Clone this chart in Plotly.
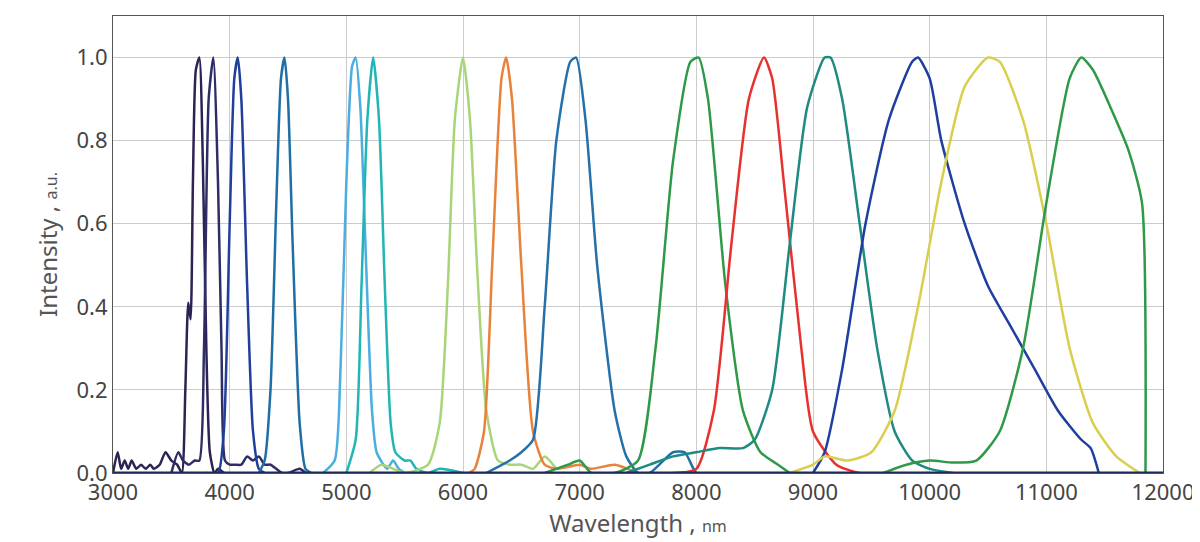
import plotly.graph_objects as go

colors = ["#2d2352", "#2e2e66", "#1f3f9a", "#1f6fa5", "#4aaee0", "#22b5b5", "#a8d47a", "#e8823a",
          "#2570a8", "#2e9a48", "#e8302e", "#1f8a80", "#1f3fa0", "#d9cf4f", "#2e9a48"]

x_ticks = [3000, 4000, 5000, 6000, 7000, 8000, 9000, 10000, 11000, 12000]
y_ticks = [0, 0.2, 0.4, 0.6, 0.8, 1.0]

s1_x = [3000, 3040, 3070, 3100, 3130, 3160, 3200, 3240, 3280, 3320, 3350, 3400, 3450, 3500, 3550, 3590, 3620, 3645, 3665, 3685, 3710, 3740, 3770, 3800, 3830, 3870, 3900, 3950]
s1_y = [0, 0.05, 0.01, 0.03, 0.01, 0.03, 0.01, 0.02, 0.01, 0.02, 0.01, 0.02, 0.05, 0.03, 0.02, 0.0, 0.2, 0.41, 0.37, 0.7, 0.97, 1.0, 0.75, 0.3, 0.05, 0.0, 0.01, 0]
s2_x = [3500, 3560, 3600, 3650, 3700, 3740, 3780, 3820, 3860, 3900, 3930, 3960, 4000, 4050, 4100, 4150, 4200, 4250, 4300, 4350, 4400, 4450, 4500, 4600, 4650]
s2_y = [0.0, 0.05, 0.03, 0.02, 0.03, 0.03, 0.3, 0.9, 1.0, 0.7, 0.3, 0.03, 0.02, 0.02, 0.02, 0.04, 0.03, 0.04, 0.02, 0.02, 0.01, 0, 0, 0.01, 0]
s3_x = [3800, 3900, 3950, 4000, 4040, 4070, 4100, 4150, 4200, 4250, 4300]
s3_y = [0, 0, 0.1, 0.6, 0.95, 1.0, 0.9, 0.45, 0.1, 0.01, 0]
s4_x = [4250, 4300, 4350, 4400, 4440, 4470, 4500, 4540, 4600, 4650, 4700]
s4_y = [0, 0.03, 0.2, 0.65, 0.95, 1.0, 0.9, 0.55, 0.12, 0.01, 0]
s5_x = [4800, 4900, 4950, 5000, 5050, 5080, 5120, 5170, 5220, 5260, 5350, 5400, 5450, 5500]
s5_y = [0, 0.03, 0.25, 0.7, 0.98, 1.0, 0.88, 0.5, 0.15, 0.05, 0.01, 0.03, 0.01, 0]
s6_x = [5000, 5080, 5130, 5180, 5230, 5280, 5330, 5380, 5420, 5500, 5550, 5600, 5700, 5800, 6000]
s6_y = [0, 0.08, 0.45, 0.85, 1.0, 0.85, 0.45, 0.12, 0.05, 0.03, 0.03, 0.01, 0, 0.01, 0]
s7_x = [5200, 5300, 5500, 5700, 5800, 5870, 5930, 6000, 6060, 6120, 6200, 6300, 6400, 6500, 6600, 6700, 6800]
s7_y = [0, 0.02, 0.0, 0.02, 0.12, 0.45, 0.85, 1.0, 0.85, 0.5, 0.15, 0.03, 0.02, 0.02, 0.01, 0.04, 0.01]
s8_x = [6050, 6100, 6180, 6250, 6330, 6370, 6420, 6500, 6600, 6700, 6800, 7000, 7100, 7300, 7500]
s8_y = [0, 0.01, 0.1, 0.5, 0.95, 1.0, 0.9, 0.5, 0.1, 0.02, 0.01, 0.02, 0.01, 0.02, 0]
s9_x = [6200, 6400, 6500, 6600, 6700, 6800, 6920, 6970, 7050, 7150, 7300, 7400, 7500, 7600, 7800, 7900, 8000, 8100]
s9_y = [0, 0.03, 0.05, 0.08, 0.4, 0.8, 0.99, 1.0, 0.85, 0.5, 0.15, 0.04, 0.0, 0.0, 0.05, 0.05, 0.0, 0]
s10_x = [6700, 6900, 7000, 7100, 7300, 7500, 7650, 7800, 7950, 8020, 8100, 8250, 8400, 8550, 8700, 8800]
s10_y = [0, 0.02, 0.03, 0, 0, 0.03, 0.3, 0.75, 0.99, 1.0, 0.9, 0.45, 0.15, 0.05, 0.02, 0]
s11_x = [7800, 8000, 8150, 8300, 8450, 8580, 8650, 8750, 8900, 9000, 9200, 9400, 10000]
s11_y = [0.0, 0.01, 0.15, 0.55, 0.9, 1.0, 0.95, 0.7, 0.3, 0.1, 0.02, 0, 0]
s12_x = [7400, 7600, 7800, 8000, 8200, 8400, 8500, 8650, 8800, 8950, 9100, 9150, 9250, 9400, 9550, 9700, 9850, 10000, 10200]
s12_y = [0, 0.02, 0.04, 0.05, 0.06, 0.06, 0.08, 0.2, 0.55, 0.88, 1.0, 1.0, 0.9, 0.6, 0.3, 0.1, 0.03, 0.01, 0]
s13_x = [9000, 9100, 9250, 9450, 9650, 9850, 9900, 10000, 10100, 10300, 10500, 10700, 10900, 11100, 11300, 11380, 11450]
s13_y = [0.0, 0.05, 0.25, 0.6, 0.85, 0.99, 1.0, 0.95, 0.8, 0.6, 0.45, 0.35, 0.25, 0.15, 0.08, 0.06, 0.0]
s14_x = [8800, 9000, 9100, 9300, 9500, 9700, 9900, 10100, 10300, 10500, 10600, 10800, 11000, 11200, 11400, 11600, 11800]
s14_y = [0, 0.02, 0.04, 0.03, 0.05, 0.15, 0.4, 0.7, 0.93, 1.0, 0.99, 0.85, 0.6, 0.3, 0.12, 0.04, 0.0]
s15_x = [9600, 9800, 10000, 10200, 10400, 10600, 10800, 11000, 11200, 11300, 11400, 11550, 11700, 11820, 11850]
s15_y = [0, 0.02, 0.03, 0.025, 0.03, 0.1, 0.3, 0.65, 0.95, 1.0, 0.97, 0.88, 0.78, 0.65, 0.0]

series = [(s1_x, s1_y), (s2_x, s2_y), (s3_x, s3_y), (s4_x, s4_y), (s5_x, s5_y), (s6_x, s6_y),
          (s7_x, s7_y), (s8_x, s8_y), (s9_x, s9_y), (s10_x, s10_y), (s11_x, s11_y), (s12_x, s12_y),
          (s13_x, s13_y), (s14_x, s14_y), (s15_x, s15_y)]

fig = go.Figure()
for (xs, ys), c in zip(series, colors):
    fig.add_trace(go.Scatter(x=xs, y=ys, mode="lines", line=dict(color=c, width=2.5, shape="spline", smoothing=0.6),
                             showlegend=False))

# baseline
fig.add_trace(go.Scatter(x=[3000, 12000], y=[0, 0], mode="lines", line=dict(color="#1c2a5a", width=3),
                         showlegend=False))

fig.update_layout(
    width=1200, height=542,
    margin=dict(l=105, r=45, t=8, b=77),
    plot_bgcolor="white", paper_bgcolor="white",
    font=dict(family="Noto Sans", size=22, color="#444444"),
    xaxis=dict(range=[3000, 12000], tickvals=x_ticks, ticktext=[str(v) for v in x_ticks],
               showgrid=True, gridcolor="#cccccc", automargin=False,
               showline=True, linecolor="#555555", mirror=True, ticks="", zeroline=False,
               title=dict(text="Wavelength , <span style='font-size:16px'>nm</span>", font=dict(size=24, color="#555555"), standoff=8)),
    yaxis=dict(range=[0, 1.1], tickvals=y_ticks, ticktext=["%.1f" % v for v in y_ticks], automargin=False,
               showgrid=True, gridcolor="#cccccc", showline=True, linecolor="#555555", mirror=True, zeroline=False,
               title=dict(text="Intensity , <span style='font-size:16px'>a.u.</span>", font=dict(size=24, color="#555555"), standoff=12)),
)

fig.write_html("out.html")
